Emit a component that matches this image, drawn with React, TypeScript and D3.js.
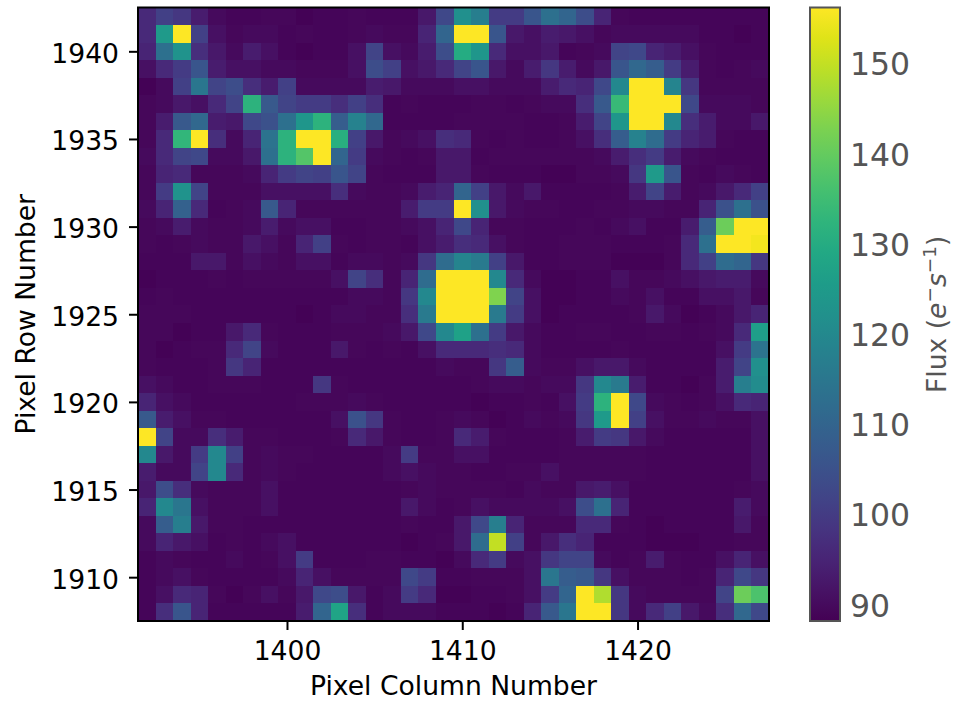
import { useEffect, useRef } from 'react';
import * as d3 from 'd3';

const firstColumn = 1392;
const topRow = 1942;
const columnTicks = [1400, 1410, 1420];
const rowTicks = [1910, 1915, 1920, 1925, 1930, 1935, 1940];
const fluxTicks = [90, 100, 110, 120, 130, 140, 150];
const fluxMin = 88.2;
const fluxMax = 156.2;

// flux per pixel, top row (1942) first, column 1392 first
const fluxRows = [
  [96,101,99,93.5,90,89,89,89.5,89.5,88.5,89,89,89.5,89,89,89,92.5,103,122,117,100,100,106,113,110,104,95,89.5,89,89,89,89,89,89,89,89],
  [96,125,156,101,91,89.5,90,90,89,89.5,89,89,89.5,90,89.5,89.5,95,110,156,156,106,92.5,91,93.5,92.5,91,89.5,90,90,90,90,90,89,89,88.5,89],
  [95,113,123,97,92.5,90,93.5,91,89,88.5,89,89,91,102,91,90,93.5,104,130,124,96,91,91,92.5,89,89.5,90,102,103,95,93.5,91,89.5,89,89,89],
  [91,96,100,106,93.5,91,91,90,90,89.5,89.5,89.5,91,104,101,91,92.5,96,102,106,92.5,90,93.5,99,93.5,90,92.5,106,111,108,100,93.5,89.5,89,89.5,90],
  [88.5,90,101,115,102,104,97,93.5,101,90,90,90,90,93.5,92.5,90,90,90,91,91,90,90,90,93.5,96,95,103,120,156,156,119,99,89.5,89.5,89.5,89.5],
  [89.5,90,92.5,91,96,102,132,107,102,100,100,97,101,97,89,89.5,89,89,89,89.5,89.5,89,89.5,90,90,97,107,134,156,156,156,103,90,90,90,89.5],
  [89.5,93.5,107,111,93.5,92.5,103,105,113,124,132,108,118,111,89,89,89,89,89.5,89.5,89.5,89.5,89,89,89.5,93.5,102,124,156,156,120,97,93.5,90,90,92.5],
  [89.5,96,133,156,97,90,95,114,132,156,156,131,101,92.5,89.5,90,91,97,96,89.5,89,89.5,89,89,89.5,91,97,108,118,112,100,95,93.5,89.5,89,89],
  [90,96,102,103,90,90,92.5,113,132,138,156,110,100,90,89.5,89,89.5,92.5,92.5,89,89.5,89.5,89.5,89.5,89.5,89.5,90,93.5,97,100,93.5,90,89.5,89,89,89],
  [89.5,95,96,89.5,89.5,89.5,90,95,100,102,101,106,102,89.5,89,89,89,92.5,92.5,89.5,89,89,89,88.5,88.5,89.5,89.5,90,99,125,106,89.5,89,90,89.5,89],
  [89.5,100,123,102,89.5,89.5,89.5,91,91,91,91,97,90,89.5,89.5,90,93.5,95,110,101,92.5,90,92.5,89,89,89,89,89.5,93.5,102,93.5,89.5,90,92.5,96,101],
  [90,95,109,96,89,89.5,90,107,95,89.5,89.5,89.5,89.5,89.5,89.5,93.5,100,100,156,122,92.5,90,89.5,89.5,89,89,89.5,89.5,90,90,89.5,89.5,95,105,113,105],
  [89.5,90,93.5,90,89.5,89.5,90,93.5,90,91,91,89,89,89.5,89.5,90,91,95,103,95,89.5,89.5,89,89,89,89.5,89,90,91,89,89,93.5,108,141,156,156],
  [89.5,89,89.5,90,89.5,89.5,92.5,91,89.5,95,101,89.5,89,89.5,89.5,89,91,93.5,97,96,91,89.5,89,89,89.5,89.5,89.5,89,89,89,89.5,96,113,156,156,155],
  [89,89,89,92.5,92.5,89.5,91,90,89.5,91,91,89,90,90,89.5,90,99,112,119,116,101,92.5,89,89,89.5,89.5,89.5,88.5,88.5,88.5,89.5,96,101,112,110,99],
  [88.5,89,89,89,89.5,89,89.5,89.5,89.5,89.5,89.5,91,102,97,89.5,95,112,156,156,156,120,96,90,88.5,88.5,89,89,91,89.5,89.5,90,91,92.5,93.5,93.5,90],
  [89,89.5,89,89,89,89,89,89,89,89,89,89,90,90,89.5,99,120,156,156,156,143,102,91,88.5,88.5,89,89,90,89.5,91,89,89,91,91,92.5,89.5],
  [89.5,89.5,89.5,89,89,89,89,89,89,88.5,89,90,90,89.5,89.5,97,116,156,156,156,116,100,91,88.5,89,89,89,89,89.5,92.5,90,88.5,89,90,92.5,95],
  [89.5,89.5,88.5,89,89,92.5,96,89.5,89,89,89,89.5,89.5,89.5,90,92.5,103,120,127,113,100,92.5,90,89,89,89.5,89.5,89,89,89.5,89.5,89,89.5,90,96,126],
  [89.5,88.5,89,89.5,89.5,96,102,90,89,89,89,92.5,89.5,89,89.5,89,91,96,96,96,97,96,90,89,89,89,89,89.5,89,89,89,89,89,91,100,114],
  [89.5,89,89,89,89.5,99,95,89,89,89,89,89,89,89,89,89,89,90,89.5,89.5,99,108,90,89.5,89.5,91,92.5,92.5,90,89,89,89,89,93.5,102,122],
  [91,90,89,89,89.5,89.5,89.5,89,89,89,99,89.5,89,89,89,89,89,89,89,89.5,90,90,89.5,90,90,99,120,116,93.5,89,89,88.5,89.5,93.5,117,121],
  [95,91,90,89,89,89,89,89,89,89.5,89.5,89.5,90,89.5,89,89,89,89,89,88.5,89,89,89.5,89,91,100,132,156,103,90,89.5,89,89.5,91,96,95],
  [107,93.5,91,89.5,89.5,89,89,89,89,89,89,91,105,99,89.5,89,89,89.5,90,89.5,88.5,89,90,89.5,90,99,125,156,101,91,89.5,89.5,90,89.5,89.5,91],
  [156,102,90,90,97,93.5,89.5,89.5,89,89,89,89.5,96,92.5,89.5,89,89,89.5,96,93.5,89.5,89,89,89,89.5,93.5,100,99,92.5,90,89,89,89,89,89,91],
  [120,92.5,90,100,120,101,89.5,90,89.5,89.5,89,89,89,89,90,100,89.5,89.5,91,91,89,89,89,89,89.5,89.5,89.5,89.5,89.5,89,89,89,89,89,89,91],
  [93.5,90,90,102,120,96,89.5,90,89.5,89,89,89,89,89,90,91,90,89.5,89.5,89,89,89.5,89.5,91,89.5,89.5,89.5,89.5,89.5,89,89,89,89,89,89,91],
  [92.5,104,97,90,89.5,89.5,89.5,91,89,89,89,89,89,89,89,89.5,90,89.5,89.5,89.5,89.5,89,90,89.5,89.5,92.5,93.5,91,89,89,89,89,89,89,89.5,90],
  [95,120,115,91,89.5,89.5,89.5,91,89,89,89,89,89,89,89,92.5,90,89,89.5,91,90,90,90,90,91,104,113,95,89,89,89,89,89,89,93.5,90],
  [90,108,117,92.5,89.5,89.5,89,89,89,89,89,89,89,89,89,89.5,89,89,92.5,103,117,95,89.5,89.5,89.5,96,96,89.5,89,88.5,89,89,89,89,92.5,89.5],
  [90,95,92.5,91,89,89.5,89,90,91,89,89,89,89,89,89,88.5,89,89.5,92.5,112,150,101,89.5,92.5,97,95,89,89,89,88.5,88.5,88.5,89,89,89.5,89.5],
  [89,90,89.5,89,89,90,89,89.5,91,100,89,89,89,89.5,89.5,89,89,88.5,90,96,100,90,91,99,102,102,90,89,89.5,93.5,89.5,89,89,91,95,91],
  [89,90,91,89.5,89,89,89,89,90,95,91,89.5,89.5,89.5,89.5,103,100,89,89,89.5,89.5,89.5,91,115,108,107,99,91,89.5,89.5,89.5,89,89.5,95,103,99],
  [89,91,96,95,89.5,88.5,89.5,91,89.5,92.5,103,104,92.5,89,90,100,96,88.5,88.5,89,89,89.5,91,100,110,156,148,99,90,89.5,89.5,89.5,89.5,102,141,137],
  [89,97,106,95,89,89,89,89,89,93.5,110,128,97,89,90,90,90,89,89,89,88.5,89,95,107,115,156,156,99,90,96,101,92.5,90,97,111,103],
];

export default function App() {
  const svgRef = useRef<SVGSVGElement>(null);

  useEffect(() => {
    if (!svgRef.current) return;

    const svg = d3.select(svgRef.current);
    svg.selectAll('*').remove();

    const width = 954;
    const height = 701;
    const left = 138;
    const right = 769;
    const top = 7.5;
    const bottom = 621;
    const font = '"DejaVu Sans", sans-serif';
    const labelSize = 26.6;

    svg.attr('width', width).attr('height', height);

    const nCols = fluxRows[0].length;
    const nRows = fluxRows.length;

    const x = d3.scaleLinear()
      .domain([firstColumn - 0.5, firstColumn + nCols - 0.5])
      .range([left, right]);
    const y = d3.scaleLinear()
      .domain([topRow + 0.5, topRow - nRows + 0.5])
      .range([top, bottom]);
    const color = d3.scaleSequential(d3.interpolateViridis)
      .domain([fluxMin, fluxMax]);

    // heatmap cells
    const cells = fluxRows.flatMap((row, r) =>
      row.map((value, c) => ({ col: firstColumn + c, row: topRow - r, value }))
    );
    svg.append('g')
      .selectAll('rect')
      .data(cells)
      .enter()
      .append('rect')
      .attr('x', d => x(d.col - 0.5))
      .attr('y', d => y(d.row + 0.5))
      .attr('width', x(1) - x(0))
      .attr('height', y(0) - y(1))
      .attr('fill', d => color(d.value))
      .attr('shape-rendering', 'crispEdges');

    // axes
    const xAxis = svg.append('g')
      .attr('transform', `translate(0,${bottom})`)
      .call(d3.axisBottom(x).tickValues(columnTicks).tickFormat(d3.format('d')).tickSize(9).tickPadding(11));
    const yAxis = svg.append('g')
      .attr('transform', `translate(${left},0)`)
      .call(d3.axisLeft(y).tickValues(rowTicks).tickFormat(d3.format('d')).tickSize(9).tickPadding(10));

    [xAxis, yAxis].forEach(axis => {
      axis.select('.domain').remove();
      axis.selectAll('line').attr('stroke', '#000').attr('stroke-width', 2);
      axis.selectAll('text')
        .attr('fill', '#000')
        .attr('font-family', font)
        .attr('font-size', labelSize);
    });
    yAxis.selectAll('text').attr('dy', '0.41em');

    svg.append('rect')
      .attr('x', left)
      .attr('y', top)
      .attr('width', right - left)
      .attr('height', bottom - top)
      .attr('fill', 'none')
      .attr('stroke', '#000')
      .attr('stroke-width', 2);

    svg.append('text')
      .attr('x', (left + right) / 2)
      .attr('y', 695)
      .attr('text-anchor', 'middle')
      .attr('font-family', font)
      .attr('font-size', labelSize)
      .attr('fill', '#000')
      .text('Pixel Column Number');

    svg.append('text')
      .attr('transform', `translate(35,${(top + bottom) / 2}) rotate(-90)`)
      .attr('text-anchor', 'middle')
      .attr('font-family', font)
      .attr('font-size', labelSize)
      .attr('fill', '#000')
      .text('Pixel Row Number');

    // colorbar
    const barLeft = 810;
    const barRight = 840;
    const barY = d3.scaleLinear().domain([fluxMin, fluxMax]).range([bottom, top]);

    const gradient = svg.append('defs')
      .append('linearGradient')
      .attr('id', 'flux-gradient')
      .attr('x1', 0).attr('y1', 1).attr('x2', 0).attr('y2', 0);
    d3.range(0, 1.001, 0.05).forEach(t => {
      gradient.append('stop')
        .attr('offset', t)
        .attr('stop-color', d3.interpolateViridis(t));
    });

    svg.append('rect')
      .attr('x', barLeft)
      .attr('y', top)
      .attr('width', barRight - barLeft)
      .attr('height', bottom - top)
      .attr('fill', 'url(#flux-gradient)')
      .attr('stroke', '#555')
      .attr('stroke-width', 2);

    const barAxis = svg.append('g')
      .attr('transform', `translate(${barRight},0)`)
      .call(d3.axisRight(barY).tickValues(fluxTicks).tickSize(0).tickPadding(10));
    barAxis.select('.domain').remove();
    barAxis.selectAll('text')
      .attr('fill', '#555')
      .attr('font-family', font)
      .attr('font-size', 31.5)
      .attr('dy', '0.36em');

    const barLabel = svg.append('text')
      .attr('transform', `translate(946,${(top + bottom) / 2}) rotate(-90)`)
      .attr('text-anchor', 'middle')
      .attr('font-family', font)
      .attr('font-size', labelSize)
      .attr('fill', '#555');
    barLabel.append('tspan').text('Flux (');
    barLabel.append('tspan').attr('font-style', 'italic').text('e');
    barLabel.append('tspan').attr('font-size', 18.5).attr('dy', -10).text('−');
    barLabel.append('tspan').attr('font-style', 'italic').attr('dy', 10).text('s');
    barLabel.append('tspan').attr('font-size', 18.5).attr('dy', -10).text('−1');
    barLabel.append('tspan').attr('dy', 10).text(')');
  }, []);

  return (
    <svg
      ref={svgRef}
      style={{ position: 'absolute', left: 0, top: 0, background: 'white', display: 'block' }}
    ></svg>
  );
}
